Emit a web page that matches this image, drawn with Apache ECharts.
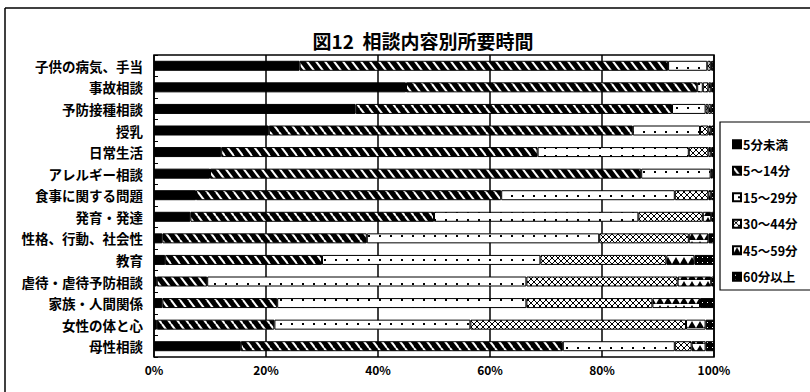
<!DOCTYPE html>
<html>
<head>
<meta charset="utf-8">
<script src="https://cdn.jsdelivr.net/npm/echarts@6/dist/echarts.min.js"></script>
<style>
  html, body { margin: 0; padding: 0; background: #fff; }
  #chart { width: 810px; height: 392px; }
</style>
</head>
<body>
<div id="chart"></div>
<script>
// Consultation categories (top to bottom)
const categories = [
  '子供の病気、手当', '事故相談', '予防接種相談', '授乳', '日常生活',
  'アレルギー相談', '食事に関する問題', '発育・発達', '性格、行動、社会性',
  '教育', '虐待・虐待予防相談', '家族・人間関係', '女性の体と心', '母性相談'
];

// Duration classes
const durationNames = ['5分未満', '5～14分', '15～29分', '30～44分', '45～59分', '60分以上'];

// Share (%) of each duration class per category
const under5  = [26, 45, 36, 20.5, 12, 10, 7.5, 6.5, 1.5, 2, 0.5, 1.5, 0.5, 15.5];
const min5to14  = [65.8, 52, 56.5, 65, 56.5, 77, 54.5, 43.5, 36.5, 28, 9, 20.5, 21, 57.5];
const min15to29 = [7, 1, 6, 12, 27, 12.4, 31, 36.5, 41.5, 39, 57, 44.5, 35, 20];
const min30to44 = [0.6, 1, 0.5, 1.5, 3.5, 0.3, 6, 11.5, 16, 22.5, 27, 22.5, 38.5, 3];
const min45to59 = [0.2, 0.5, 0.5, 0.5, 0.5, 0.2, 0.5, 1.5, 3.5, 5, 6, 8.5, 3.5, 2.5];
const over60    = [0.4, 0.5, 0.5, 0.5, 0.5, 0.1, 0.5, 0.5, 1, 3.5, 0.5, 2.5, 1.5, 1.5];

const xTicks = [0, 20, 40, 60, 80, 100];

// Monochrome fill patterns
function tile(w, h, draw) {
  const c = document.createElement('canvas');
  c.width = w; c.height = h;
  const g = c.getContext('2d');
  draw(g, w, h);
  return { image: c, repeat: 'repeat' };
}
const fillSolid = '#000';
const fillHatch = tile(9, 12, (g, w, h) => {
  g.fillStyle = '#000'; g.fillRect(0, 0, w, h);
  g.strokeStyle = '#fff'; g.lineWidth = 2;
  for (let k = -1; k <= 1; k++) {
    g.beginPath(); g.moveTo(k * w, 0); g.lineTo(k * w + w, h); g.stroke();
  }
});
const fillDots = tile(11, 8, (g, w, h) => {
  g.fillStyle = '#fff'; g.fillRect(0, 0, w, h);
  g.fillStyle = '#000'; g.fillRect(5, 3, 2, 2);
});
const fillCross = tile(6, 6, (g, w, h) => {
  g.fillStyle = '#fff'; g.fillRect(0, 0, w, h);
  g.strokeStyle = '#000'; g.lineWidth = 1;
  g.beginPath(); g.moveTo(0, 0); g.lineTo(w, h); g.moveTo(w, 0); g.lineTo(0, h); g.stroke();
});
const fillTri = tile(8, 8, (g, w, h) => {
  g.fillStyle = '#fff'; g.fillRect(0, 0, w, h);
  g.fillStyle = '#000';
  g.beginPath(); g.moveTo(0, h); g.lineTo(w / 2, 1); g.lineTo(w, h); g.closePath(); g.fill();
});
const fillDark = tile(5, 5, (g, w, h) => {
  g.fillStyle = '#000'; g.fillRect(0, 0, w, h);
  g.fillStyle = '#fff'; g.fillRect(2, 2, 1, 1);
});

const seriesData = [under5, min5to14, min15to29, min30to44, min45to59, over60];
const fills = [fillSolid, fillHatch, fillDots, fillCross, fillTri, fillDark];

const FONT = '"Noto Sans CJK JP", "Noto Sans", sans-serif';

const chart = echarts.init(document.getElementById('chart'), null, { renderer: 'svg' });
chart.setOption({
  animation: false,
  backgroundColor: '#fff',
  title: {
    text: '図12  相談内容別所要時間',
    left: 418,
    top: 26,
    textAlign: 'center',
    textStyle: { fontFamily: FONT, fontSize: 19, fontWeight: 'bold', color: '#000' }
  },
  graphic: [
    { type: 'line', shape: { x1: 5, y1: 8, x2: 810, y2: 8 }, style: { stroke: '#000', lineWidth: 1.5 } },
    { type: 'line', shape: { x1: 5, y1: 8, x2: 5, y2: 392 }, style: { stroke: '#000', lineWidth: 1.5 } },
    { type: 'rect', shape: { x: 720, y: 122, width: 100, height: 168 }, style: { fill: 'none', stroke: '#000', lineWidth: 1.2 } }
  ],
  legend: {
    orient: 'vertical',
    left: 727,
    top: 133,
    itemWidth: 8,
    itemHeight: 8,
    itemGap: 14,
    icon: 'rect',
    data: durationNames,
    textStyle: { fontFamily: FONT, fontSize: 12.5, fontWeight: 'bold', color: '#000', padding: [0, 0, 0, -3] }
  },
  grid: { left: 154, right: 96, top: 55, bottom: 35, show: true, borderColor: '#000', borderWidth: 1.5, backgroundColor: '#fff' },
  xAxis: {
    type: 'value',
    min: xTicks[0],
    max: xTicks[xTicks.length - 1],
    interval: 20,
    axisLine: { show: false },
    axisTick: { show: false },
    splitLine: { show: true, lineStyle: { color: '#000', width: 1.5 } },
    axisLabel: {
      formatter: '{value}%', margin: 6,
      fontFamily: FONT, fontSize: 12, fontWeight: 'bold', color: '#000'
    }
  },
  yAxis: {
    type: 'category',
    inverse: true,
    data: categories,
    axisLine: { show: false },
    axisTick: { show: true, inside: true, length: 4, lineStyle: { color: '#000', width: 1 } },
    axisLabel: { margin: 11, fontFamily: FONT, fontSize: 13.5, fontWeight: 'bold', color: '#000' }
  },
  series: durationNames.map((name, i) => ({
    name,
    type: 'bar',
    stack: 'total',
    barWidth: 10,
    data: seriesData[i],
    itemStyle: { color: fills[i], borderColor: '#000', borderWidth: 1 }
  }))
});
</script>
</body>
</html>
